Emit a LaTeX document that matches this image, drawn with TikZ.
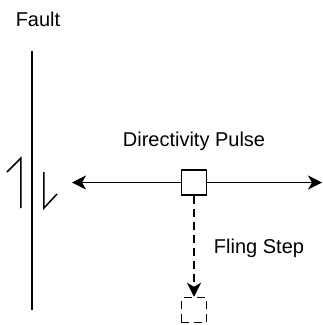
\documentclass[tikz,border=0pt]{standalone}
\usepackage{fontspec}
\setmainfont{Liberation Sans}
\usetikzlibrary{arrows.meta,positioning}
\tikzset{>={Stealth[length=14pt, width=14pt, inset=4pt]}}
\tikzset{site/.style={draw, minimum size=25pt, inner sep=0pt}}
\tikzset{label/.style={font=\fontsize{20}{23}\selectfont, inner sep=0pt}}
\tikzset{longdash/.style={dash pattern=on 8pt off 5pt}}

\begin{document}
\begin{tikzpicture}[x=1pt,y=-1pt,line width=1.5pt]
      \useasboundingbox (0,0) rectangle (323,325);
      \node[label] (fault) at (38,19) {Fault};
      \coordinate (ftop) at (32,51);
      \coordinate (fbot) at (32,310);
      \draw (ftop) -- (fbot);
      % slip sense
      \draw (7,172) -- (21,158) -- (21,208);
      \draw (44,172) -- (44,208) -- (57,194);
      \node[site] (pulse) at (194,182.5) {};
      \node[label, above=18pt of pulse] (dlabel) {Directivity Pulse};
      \coordinate (left) at (72,182.5);
      \coordinate (right) at (322,182.5);
      \draw[->] (pulse.west) -- (left);
      \draw[->] (pulse.east) -- (right);
      \node[site, longdash] (fling) at (194,310) {};
      \draw[->, longdash] (pulse.south) -- (fling.north);
      \node[label] (flabel) at (259,248) {Fling Step};
    \end{tikzpicture}
\end{document}
